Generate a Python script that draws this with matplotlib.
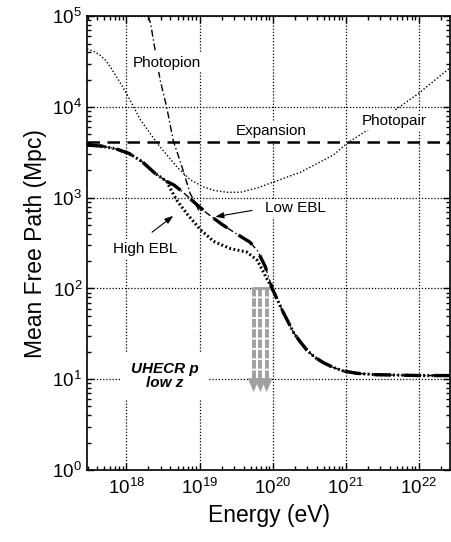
import numpy as np
import matplotlib
matplotlib.use("Agg")
import matplotlib.pyplot as plt

plt.rcParams['font.family'] = ['Liberation Sans', 'DejaVu Sans']
plt.rcParams['mathtext.default'] = 'regular'

# values, as log10(E / eV) and log10(L / Mpc)
pair_logE = [17.46, 17.56, 17.64, 17.72, 17.78, 17.89, 18.0, 18.19, 18.42, 18.69,
             18.87, 19.05, 19.2, 19.38, 19.56, 19.8, 20.0, 20.38, 20.83, 21.02,
             21.29, 21.70, 22.0, 22.44]
pair_logL = [4.64, 4.61, 4.57, 4.51, 4.44, 4.30, 4.15, 3.86, 3.60, 3.34,
             3.20, 3.12, 3.08, 3.06, 3.06, 3.11, 3.17, 3.28, 3.47, 3.60,
             3.74, 3.98, 4.15, 4.44]

pion_logE = [18.30, 18.33, 18.46, 18.55, 18.64, 18.76, 18.87, 19.01]
pion_logL = [5.00, 4.92, 4.30, 4.00, 3.63, 3.34, 3.05, 2.83]

expansion_L = 4120.0

common_low_logE = [17.46, 17.65, 17.85, 18.03, 18.21, 18.39, 18.55]
common_low_logL = [3.58, 3.57, 3.54, 3.49, 3.40, 3.27, 3.18]
common_high_logE = [20.0, 20.08, 20.15, 20.22, 20.29, 20.38, 20.47, 20.58, 20.70,
                    20.83, 20.97, 21.15, 21.4, 21.70, 22.0, 22.44]
common_high_logL = [1.99, 1.85, 1.73, 1.62, 1.51, 1.41, 1.32, 1.24, 1.18,
                    1.13, 1.09, 1.065, 1.05, 1.045, 1.04, 1.04]

high_mid_logE = [18.62, 18.70, 18.83, 19.01, 19.19, 19.42, 19.65, 19.79, 19.92]
high_mid_logL = [3.07, 2.96, 2.82, 2.65, 2.52, 2.44, 2.40, 2.31, 2.11]

low_mid_logE = [18.65, 18.76, 18.94, 19.10, 19.30, 19.47, 19.69, 19.79, 19.90]
low_mid_logL = [3.14, 3.07, 2.94, 2.83, 2.71, 2.62, 2.51, 2.42, 2.24]

gzk_arrow_E = [5.5e19, 6.8e19, 8.3e19]
gzk_top = 100.0
gzk_head_base = 10.0
gzk_bottom = 7.2


def curve(logE, logL):
    return 10 ** np.array(logE), 10 ** np.array(logL)


fig = plt.figure(figsize=(4.51, 5.42), dpi=100)
ax = fig.add_axes([0.193, 0.133, 0.805, 0.837])

E, L = curve(pair_logE, pair_logL)
ax.plot(E, L, color='black', lw=1.0, ls=(0, (1, 1.5)), zorder=3)

E, L = curve(pion_logE, pion_logL)
ax.plot(E, L, color='black', lw=1.0, ls=(0, (5, 2, 1, 2)), zorder=3)

ax.axhline(expansion_L, color='black', lw=1.8, ls=(0, (5, 3)), zorder=3)

high_E, high_L = curve(common_low_logE + high_mid_logE + common_high_logE,
                       common_low_logL + high_mid_logL + common_high_logL)
low_E, low_L = curve(common_low_logE + low_mid_logE + common_high_logE,
                     common_low_logL + low_mid_logL + common_high_logL)

ax.plot(high_E, high_L, color='black', lw=2.2, ls=(0, (0.6, 0.8)), zorder=4)
ax.plot(low_E, low_L, color='black', lw=1.0, ls=(0, (5, 2, 1, 2)), zorder=4)
ax.plot(low_E, low_L, color='black', lw=2.4, ls=(0, (5, 4)), zorder=4)

# GZK arrows
ax.plot([gzk_arrow_E[0] * 0.94, 1e20], [gzk_top, gzk_top], color='#a0a0a0',
        lw=2.0, zorder=2, solid_capstyle='butt')
for e in gzk_arrow_E:
    ax.plot([e, e], [gzk_top, gzk_head_base], color='#a0a0a0', lw=2.8,
            ls=(0, (2.2, 0.45)), zorder=2, solid_capstyle='butt',
            dash_capstyle='butt')
    ax.annotate('', xy=(e, gzk_bottom), xytext=(e, gzk_head_base),
                arrowprops=dict(arrowstyle='-|>,head_width=0.42,head_length=1.0',
                                color='#a0a0a0', lw=0, shrinkA=0, shrinkB=0),
                zorder=2)

box = dict(facecolor='white', edgecolor='none', pad=1.5)
ax.text(10 ** 18.55, 10 ** 4.49, 'Photopion', fontsize=11, ha='center',
        va='center', bbox=box, zorder=6)
ax.text(10 ** 19.98, 10 ** 3.73, 'Expansion', fontsize=11, ha='center',
        va='center', bbox=box, zorder=6)
ax.text(10 ** 21.67, 10 ** 3.85, 'Photopair', fontsize=11, ha='center',
        va='center', bbox=box, zorder=6)
ax.text(10 ** 20.31, 10 ** 2.89, 'Low EBL', fontsize=11, ha='center',
        va='center', bbox=box, zorder=6)
ax.text(10 ** 18.26, 10 ** 2.44, 'High EBL', fontsize=11, ha='center',
        va='center', bbox=box, zorder=6)
ax.text(10 ** 18.52, 10 ** 1.04, 'UHECR p\nlow z', fontsize=11, ha='center',
        va='center', fontweight='bold', fontstyle='italic', linespacing=1.0,
        bbox=dict(facecolor='white', edgecolor='none', pad=7), zorder=6)

ax.annotate('', xy=(10 ** 19.215, 10 ** 2.79), xytext=(10 ** 19.72, 10 ** 2.86),
            arrowprops=dict(arrowstyle='-|>,head_width=0.18,head_length=0.5',
                            color='black', lw=0.8, shrinkA=0, shrinkB=0), zorder=6)
ax.annotate('', xy=(10 ** 18.64, 10 ** 2.80), xytext=(10 ** 18.35, 10 ** 2.62),
            arrowprops=dict(arrowstyle='-|>,head_width=0.18,head_length=0.5',
                            color='black', lw=0.8, shrinkA=0, shrinkB=0), zorder=6)

ax.set_xscale('log')
ax.set_yscale('log')
ax.set_xlim(10 ** 17.46, 10 ** 22.43)
ax.set_ylim(1, 1e5)
ax.set_xticks([1e18, 1e19, 1e20, 1e21, 1e22])
ax.set_yticks([1e0, 1e1, 1e2, 1e3, 1e4, 1e5])
ax.grid(True, which='major', color='black', ls=(0, (1, 1.5)), lw=0.9, zorder=1)
ax.set_axisbelow(True)
ax.tick_params(which='both', direction='in', top=True, right=True,
               labelsize=13.5, width=1.0)
ax.tick_params(which='major', length=5)
ax.tick_params(which='minor', length=3)
ax.tick_params(axis='x', pad=6)
for s in ax.spines.values():
    s.set_linewidth(1.2)

ax.set_xlabel('Energy (eV)', fontsize=16.5)
ax.set_ylabel('Mean Free Path (Mpc)', fontsize=16.5)

fig.savefig('out.png', dpi=100)
